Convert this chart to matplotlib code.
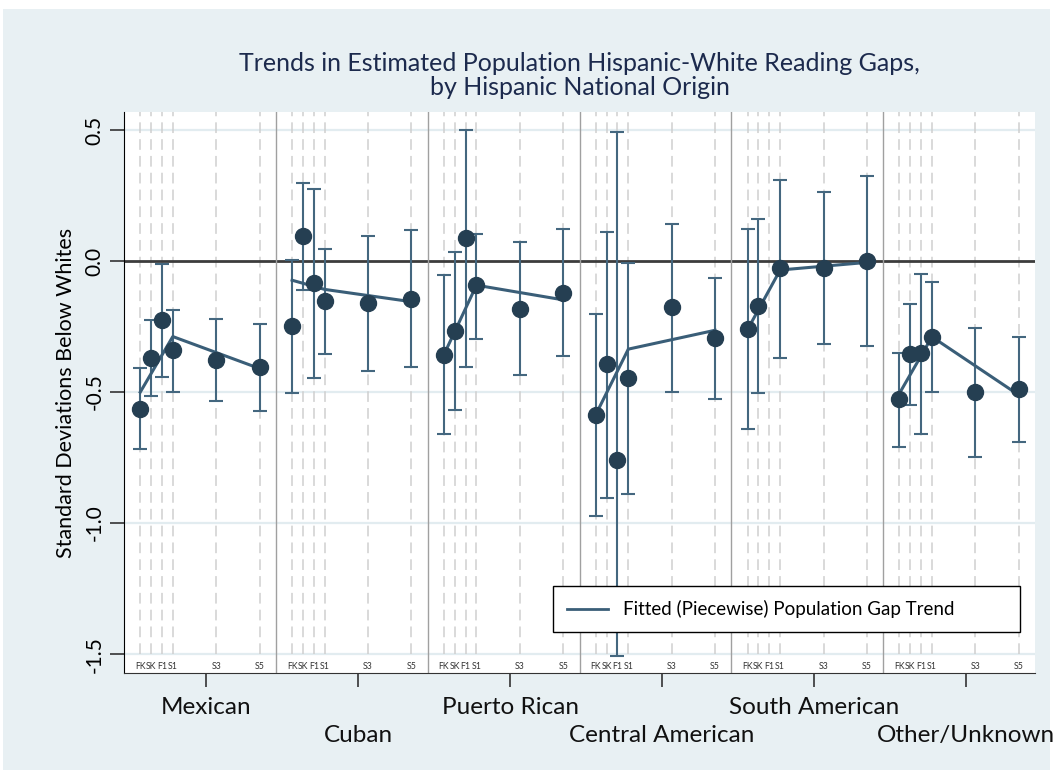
import numpy as np
import matplotlib.pyplot as plt
from matplotlib.patches import Rectangle
from matplotlib.lines import Line2D
import matplotlib.transforms as mtransforms

plt.rcParams['font.family'] = ['Lato', 'DejaVu Sans']

# groups and waves
groups = ['Mexican', 'Cuban', 'Puerto Rican', 'Central American',
          'South American', 'Other/Unknown']
waves = ['FK', 'SK', 'F1', 'S1', 'S3', 'S5']
wave_pos = [0, 1, 2, 3, 7, 11]   # half-year units from fall K

# estimated gaps (NaN = not shown)
est = [
    [-0.564, -0.368, -0.225, -0.340, -0.378, -0.406],
    [-0.248, 0.095, -0.085, -0.151, -0.159, -0.145],
    [-0.357, -0.268, 0.089, -0.092, -0.183, -0.120],
    [-0.586, -0.394, -0.758, -0.447, -0.176, -0.294],
    [-0.261, -0.172, np.nan, -0.028, -0.025, 0.000],
    [-0.528, -0.356, -0.352, -0.289, -0.501, -0.489],
]
ci_hi = [
    [-0.407, -0.225, -0.013, -0.188, -0.220, -0.239],
    [0.004, 0.299, 0.274, 0.047, 0.095, 0.117],
    [-0.053, 0.033, 0.501, 0.103, 0.071, 0.122],
    [-0.202, 0.110, 0.493, -0.007, 0.142, -0.065],
    [0.121, 0.159, np.nan, 0.309, 0.265, 0.324],
    [-0.350, -0.165, -0.048, -0.079, -0.255, -0.289],
]
ci_lo = [
    [-0.719, -0.515, -0.441, -0.499, -0.534, -0.574],
    [-0.503, -0.112, -0.448, -0.355, -0.419, -0.405],
    [-0.660, -0.569, -0.406, -0.296, -0.435, -0.361],
    [-0.971, -0.903, -1.508, -0.887, -0.500, -0.526],
    [-0.642, -0.503, np.nan, -0.369, -0.318, -0.323],
    [-0.709, -0.550, -0.658, -0.501, -0.747, -0.690],
]
# piecewise fit at FK, S1 and S5
fit_pos = [0, 3, 11]
fit = [
    [-0.500, -0.288, -0.410],
    [-0.073, -0.108, -0.155],
    [-0.357, -0.092, -0.148],
    [-0.586, -0.336, -0.264],
    [-0.261, -0.034, -0.005],
    [-0.505, -0.289, -0.511],
]

W = 14          # panel width in x units
START = -1.5
bg = '#e8f0f3'
pt_col = '#253f52'
bar_col = '#44677f'
line_col = '#3a5e78'

fig = plt.figure(figsize=(10.53, 7.74), dpi=100, facecolor='white')
fig.patches.append(Rectangle((3/1053, 4/774), 1047/1053, 761/774,
                             transform=fig.transFigure, facecolor=bg,
                             edgecolor='none', zorder=-10))
ax = fig.add_axes([124/1053, 1 - 673/774, 911/1053, 561/774])
ax.set_facecolor('white')
ax.set_xlim(START, START + W * len(groups))
ax.set_ylim(-1.572, 0.569)

# grid
for v in [0.5, -0.5, -1.0, -1.5]:
    ax.axhline(v, color='#e2ecf0', lw=1.6, zorder=0)
ax.axhline(0, color='#3c3c3c', lw=2, zorder=1)

tr = mtransforms.blended_transform_factory(ax.transData, ax.transAxes)
for k in range(len(groups)):
    off = k * W
    if k > 0:
        ax.axvline(off + START, color='#a0a0a0', lw=1, zorder=1)
    for p in wave_pos:
        ax.plot([off + p, off + p], [-1.5, 0.569], color='#cfcfcf', lw=1.1,
                dashes=(7, 4), zorder=0.5)
    for w, p in zip(waves, wave_pos):
        ax.text(off + p, 0.004, w, transform=tr,
                ha='center', va='bottom', fontsize=6.3, color='#333333')

    x = np.array(wave_pos) + off
    e = np.array(est[k]); hi = np.array(ci_hi[k]); lo = np.array(ci_lo[k])
    ok = ~np.isnan(e)
    ax.errorbar(x[ok], e[ok], yerr=[e[ok] - lo[ok], hi[ok] - e[ok]], fmt='none',
                ecolor=bar_col, elinewidth=1.5, capsize=4.7, capthick=1.5, zorder=2)
    ax.plot(np.array(fit_pos) + off, fit[k], color=line_col, lw=2.2, zorder=3)
    ax.plot(x[ok], e[ok], 'o', color=pt_col, markersize=11.5, zorder=4)

# axes styling
for s in ['top', 'right']:
    ax.spines[s].set_visible(False)
ax.spines['left'].set_color('black')
ax.spines['bottom'].set_color('#333333')
ax.set_yticks([0.5, 0.0, -0.5, -1.0, -1.5])
ax.set_yticklabels(['0.5', '0.0', '-0.5', '-1.0', '-1.5'], rotation=90, va='center', fontsize=15)
ax.tick_params(axis='y', length=10, width=1.2, color='#333333', pad=4)
centers = [k * W + 6.1 for k in range(len(groups))]
ax.set_xticks(centers)
ax.set_xticklabels([''] * len(groups))
ax.tick_params(axis='x', length=10, width=1.2, color='#333333')
for k, (c, g) in enumerate(zip(centers, groups)):
    yy = -0.061 if k % 2 == 0 else -0.111
    ax.text(c, yy, g, transform=tr, ha='center', va='center', fontsize=17.5, color='#111111')

ax.set_ylabel('Standard Deviations Below Whites', fontsize=15.5, labelpad=6)
ax.set_title('Trends in Estimated Population Hispanic-White Reading Gaps,\nby Hispanic National Origin',
             fontsize=18, color='#1c2a4d', pad=12, linespacing=1.05)

leg = ax.legend(handles=[Line2D([], [], color=line_col, lw=2)],
                labels=['Fitted (Piecewise) Population Gap Trend'],
                loc='center left', bbox_to_anchor=(0.471, 0.071, 0.5125, 0.086),
                mode='expand', fancybox=False, edgecolor='black', framealpha=1,
                fontsize=13.5, handlelength=2.2, borderpad=0.75, borderaxespad=0)
leg.get_frame().set_linewidth(1)

fig.savefig('out.png', dpi=100, facecolor=fig.get_facecolor())
